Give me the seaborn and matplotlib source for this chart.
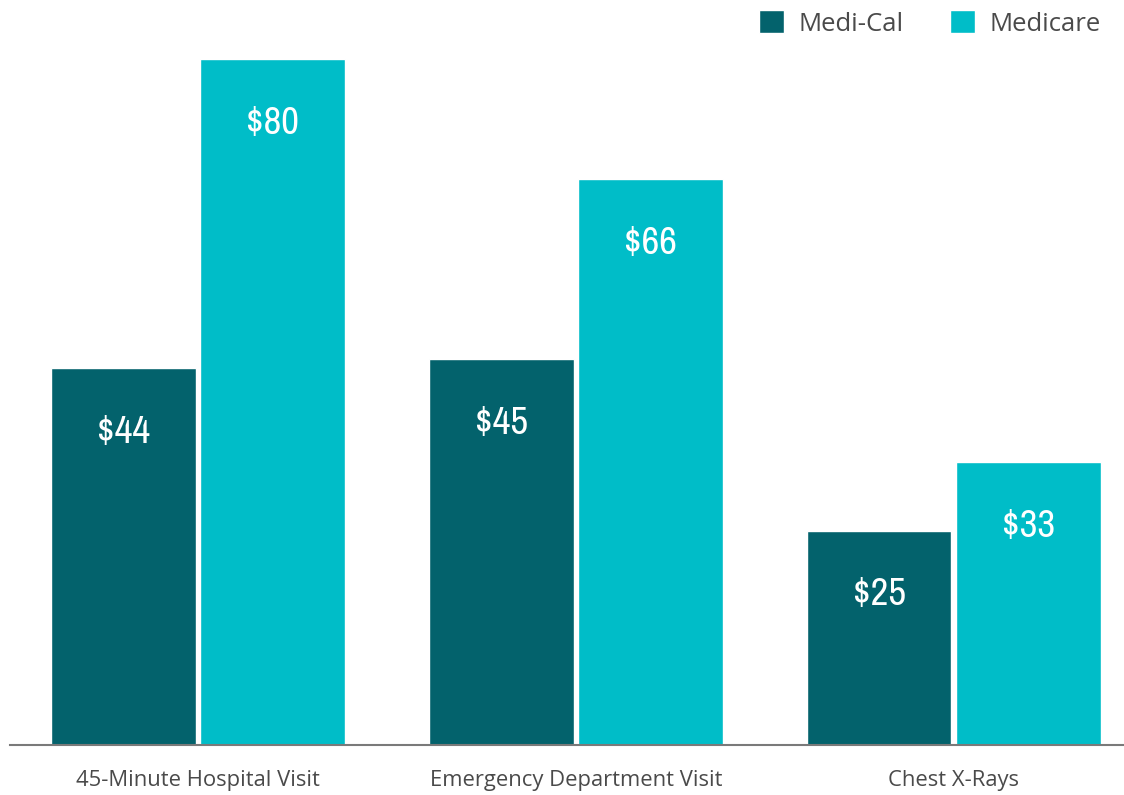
import pandas as pd
import matplotlib.pyplot as plt
import seaborn as sns
from matplotlib import font_manager

# data
services = ["45-Minute Hospital Visit", "Emergency Department Visit", "Chest X-Rays"]
plans = ["Medi-Cal", "Medicare"]
medi_cal = [44, 45, 25]
medicare = [80, 66, 33]
colors = ["#03626C", "#00BDC8"]

df = pd.DataFrame({
    "service": services * 2,
    "plan": [plans[0]] * 3 + [plans[1]] * 3,
    "cost": medi_cal + medicare,
})

# look for a narrow face for the value labels, if one is installed
names = sorted({f.name for f in font_manager.fontManager.ttflist})
narrow = [n for n in names if "Condensed" in n or "Narrow" in n]
label_family = narrow[:1] + ["DejaVu Sans"]

sns.set_style("white")
plt.rcParams["font.family"] = ["Open Sans", "DejaVu Sans"]

fig = plt.figure(figsize=(11.24, 7.95), dpi=100)
ax = fig.add_axes([10 / 1124, 50 / 795, 1114 / 1124, 745 / 795])

sns.barplot(data=df, x="service", y="cost", hue="plan", palette=colors,
            width=0.79, gap=0.03, errorbar=None, saturation=1, ax=ax)

ax.set_xlim(-0.498, 2.451)
ax.set_ylim(0, 86.9)

# value labels inside the bar tops
for cont in ax.containers:
    for bar in cont:
        h = bar.get_height()
        ax.text(bar.get_x() + bar.get_width() / 2, h - 7.5, f"${h:.0f}",
                ha="center", va="center", color="white", fontsize=28,
                family=label_family, fontstretch="condensed")

# axis styling
for side in ["top", "right", "left"]:
    ax.spines[side].set_visible(False)
ax.spines["bottom"].set_color("#7a7a7a")
ax.spines["bottom"].set_linewidth(1.5)
ax.set_yticks([])
ax.set_xlabel("")
ax.set_ylabel("")
ax.tick_params(axis="x", length=0, pad=18, labelsize=15.8, labelcolor="#4a4a4a")

handles, labels = ax.get_legend_handles_labels()
ax.legend(handles, labels, loc="upper right", bbox_to_anchor=(1.0, 1.016),
          bbox_transform=fig.transFigure, ncol=2, frameon=False, fontsize=18.5,
          handlelength=1.0, handleheight=1.0, handletextpad=0.55,
          columnspacing=1.8, labelcolor="#4a4a4a")

plt.savefig("out.png", dpi=100)
